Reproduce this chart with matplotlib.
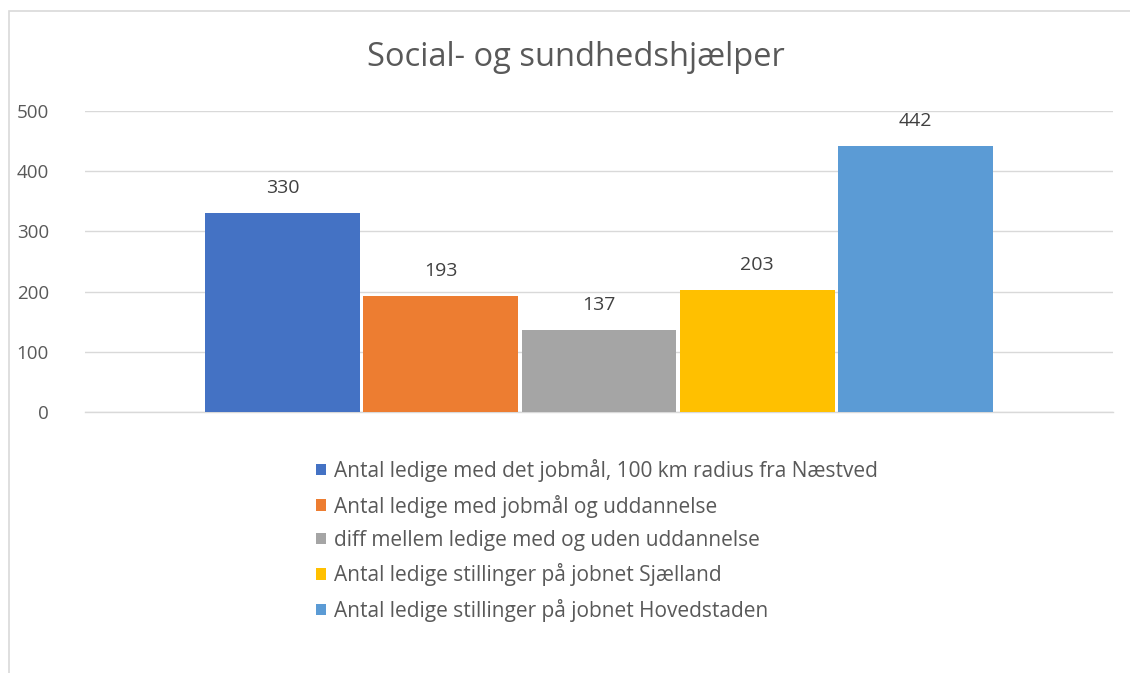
import matplotlib.pyplot as plt
from matplotlib.patches import Rectangle

plt.rcParams['font.family'] = ['Open Sans', 'DejaVu Sans']

titel = "Social- og sundhedshjælper"
serier = [
    "Antal ledige med det jobmål, 100 km radius fra Næstved",
    "Antal ledige med jobmål og uddannelse",
    "diff mellem ledige med og uden uddannelse",
    "Antal ledige stillinger på jobnet Sjælland",
    "Antal ledige stillinger på jobnet Hovedstaden",
]
vaerdier = [330, 193, 137, 203, 442]
farver = ["#4472C4", "#ED7D31", "#A5A5A5", "#FFC000", "#5B9BD5"]
yticks = [0, 100, 200, 300, 400, 500]

W, H = 1130, 673
fig = plt.figure(figsize=(W / 100, H / 100), dpi=100)

# ramme omkring diagrammet
fig.patches.append(Rectangle((9 / W, -0.1), 1.2, 1.1 - 11 / H,
                             transform=fig.transFigure, fill=False,
                             edgecolor="#D9D9D9", linewidth=1.2))

ax = fig.add_axes([85 / W, 1 - 412 / H, (1113 - 85) / W, (412 - 111) / H])

trin = 0.154
bredde = 0.1505
handles = []
for i, (navn, v, f) in enumerate(zip(serier, vaerdier, farver)):
    x = (i - 2) * trin
    b = ax.bar(x, v, width=bredde, color=f, label=navn, zorder=3)
    handles.append(b)
    ax.annotate(str(v), (x, v), xytext=(0, 18), textcoords="offset points",
                ha="center", va="center", fontsize=14, color="#404040")

ax.set_xlim(-0.5, 0.5)
ax.set_ylim(0, 500)
ax.set_yticks(yticks)
ax.set_xticks([])
ax.tick_params(axis="y", length=0, pad=26, labelsize=13.5, labelcolor="#595959")
ax.grid(axis="y", color="#D9D9D9", linewidth=1, zorder=0)
ax.axhline(0, color="#D9D9D9", linewidth=1, zorder=2, clip_on=False)
for s in ax.spines.values():
    s.set_visible(False)

fig.text(576 / W, 1 - 57 / H, titel, ha="center", va="center",
         fontsize=23.5, color="#595959")

leg = fig.legend(handles=handles, loc="upper left",
                 bbox_to_anchor=(316 / W, 1 - 459 / H),
                 frameon=False, fontsize=15, handlelength=0.48,
                 handleheight=0.48, handletextpad=0.38, labelspacing=0.6,
                 borderpad=0, borderaxespad=0)
for t in leg.get_texts():
    t.set_color("#595959")

fig.savefig("out.png", dpi=100)
